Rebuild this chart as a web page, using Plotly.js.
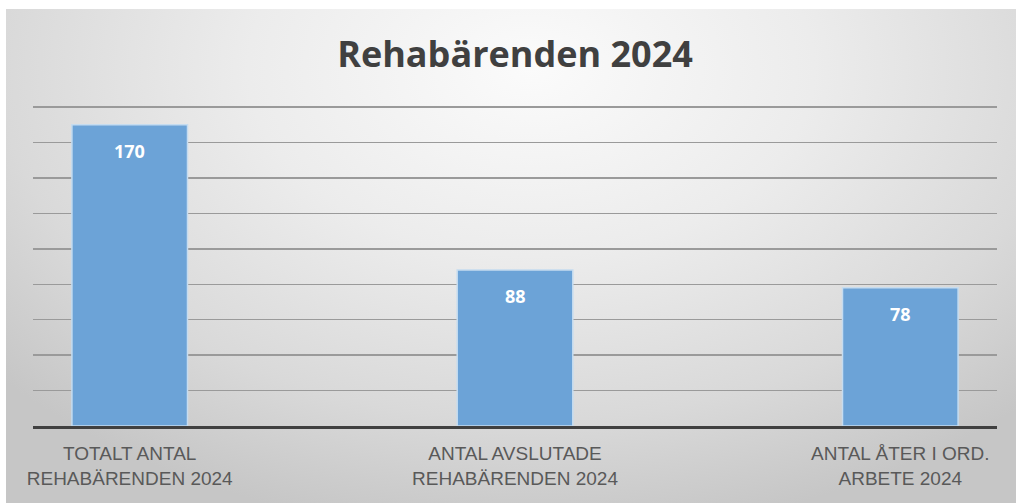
<!DOCTYPE html>
<html>
<head>
<meta charset="utf-8">
<script src="https://cdn.plot.ly/plotly-3.0.1.min.js"></script>
<style>
  html, body { margin: 0; padding: 0; background: #ffffff; }
  #bg { position: absolute; left: 6px; top: 9px; width: 1010px; height: 494px;
        background: radial-gradient(ellipse 70% 95% at 52% 12%, #fbfbfb 0%, #ececec 40%, #d9d9d9 75%, #c6c6c6 100%); }
  #chart { position: absolute; left: 0; top: 0; width: 1016px; height: 503px; }
</style>
</head>
<body>
<div id="bg"></div>
<div id="chart"></div>
<script>
const categories = [
  "TOTALT ANTAL<br>REHABÄRENDEN 2024",
  "ANTAL AVSLUTADE<br>REHABÄRENDEN 2024",
  "ANTAL ÅTER I ORD.<br>ARBETE 2024"
];
const values = [170, 88, 78];
const chartTitle = "Rehabärenden 2024";

const trace = {
  type: "bar",
  x: categories,
  y: values,
  width: 0.3,
  marker: { color: "#6ca3d7", line: { color: "#c5dcf0", width: 1.5 } },
  hoverinfo: "none"
};

const annotations = categories.map((c, i) => ({
  x: c, y: values[i], xref: "x", yref: "y",
  text: String(values[i]), showarrow: false,
  yanchor: "middle", yshift: -26,
  font: { family: "'Open Sans', sans-serif", size: 18, color: "#ffffff", weight: 700 }
}));

const layout = {
  width: 1016, height: 503,
  margin: { l: 33, r: 19, t: 106, b: 77 },
  paper_bgcolor: "rgba(0,0,0,0)",
  plot_bgcolor: "rgba(0,0,0,0)",
  title: {
    text: "<b>" + chartTitle + "</b>",
    x: 0.5, xref: "paper", xanchor: "center",
    y: 1 - 54 / 503, yref: "container", yanchor: "middle",
    font: { family: "'Open Sans', sans-serif", size: 36, color: "#404040" }
  },
  xaxis: {
    range: [-0.251, 2.251],
    showline: true, linecolor: "#404040", linewidth: 3,
    ticks: "", showgrid: false,
    ticklabelstandoff: 8,
    tickfont: { family: "'Liberation Sans Narrow', 'Arial Narrow', 'Liberation Sans', sans-serif", size: 19, color: "#595959" }
  },
  yaxis: {
    range: [0, 180.6], dtick: 20, tick0: 0,
    showticklabels: false, ticks: "",
    showgrid: true, gridcolor: "#9a9a9a", gridwidth: 1.5,
    zeroline: false, showline: false
  },
  annotations: annotations,
  showlegend: false
};

Plotly.newPlot("chart", [trace], layout, { displayModeBar: false, staticPlot: true });
</script>
</body>
</html>
